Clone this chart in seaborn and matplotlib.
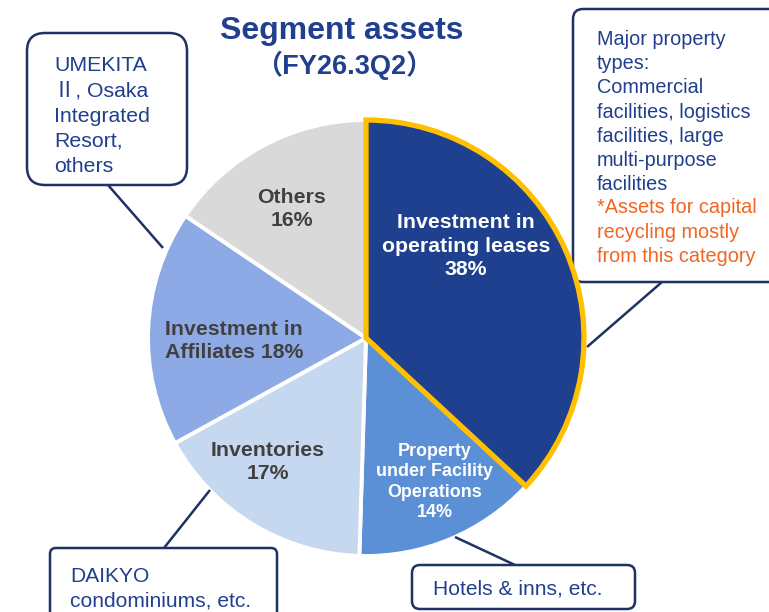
import matplotlib
matplotlib.use("Agg")
import matplotlib.pyplot as plt
import seaborn as sns
from matplotlib.patches import Wedge, FancyBboxPatch

sns.set_style("white")
plt.rcParams['font.family'] = ['Liberation Sans', 'Noto Sans CJK JP', 'DejaVu Sans']

# ---- data ----
categories = ["Investment in\noperating leases", "Property\nunder Facility\nOperations",
              "Inventories", "Investment in\nAffiliates", "Others"]
values = [38, 14, 17, 18, 16]
pct_labels = ["38%", "14%", "17%", "18%", "16%"]
colors = ["#1F3F8F", "#5B8FD6", "#C6D8F0", "#8EAAE6", "#D9D9D9"]
title = "Segment assets"
subtitle = "（FY26.3Q2）"

W, H = 769, 612
fig = plt.figure(figsize=(W / 100, H / 100), dpi=100)
ax = fig.add_axes([0, 0, 1, 1])

def Y(py):
    return H - py

cx, cy, R = 366, 338, 218
wedges, _ = ax.pie(values, colors=colors, startangle=90, counterclock=False,
                   center=(cx, Y(cy)), radius=R,
                   wedgeprops=dict(edgecolor="white", linewidth=2.8))
w0 = wedges[0]
ax.add_patch(Wedge(w0.center, w0.r, w0.theta1, w0.theta2, facecolor="none",
                   edgecolor="#FFC000", linewidth=3.8, zorder=5, joinstyle="miter"))

ax.set_xlim(0, W)
ax.set_ylim(0, H)
ax.set_aspect("equal")
ax.set_axis_off()

navy = "#203F8F"
dark = "#404040"

# title
ax.text(342, Y(31), title, ha="center", va="center", fontsize=23, fontweight="bold", color=navy)
ax.text(344, Y(65), subtitle, ha="center", va="center", fontsize=19.5, fontweight="bold", color=navy)

# slice labels
LS = 1.28
ax.text(466, Y(246), categories[0] + "\n" + pct_labels[0], ha="center", va="center",
        fontsize=15.3, fontweight="bold", color="white", linespacing=LS, zorder=6)
ax.text(435, Y(482), categories[1] + "\n" + pct_labels[1], ha="center", va="center",
        fontsize=12.9, fontweight="bold", color="white", linespacing=1.28, zorder=6)
ax.text(268, Y(462), categories[2] + "\n" + pct_labels[2], ha="center", va="center",
        fontsize=15.3, fontweight="bold", color=dark, linespacing=LS, zorder=6)
ax.text(234, Y(341), categories[3] + " " + pct_labels[3], ha="center", va="center",
        fontsize=15.3, fontweight="bold", color=dark, linespacing=LS, zorder=6)
ax.text(292, Y(209), categories[4] + "\n" + pct_labels[4], ha="center", va="center",
        fontsize=15.3, fontweight="bold", color=dark, linespacing=LS, zorder=6)

# callout boxes
box_col = "#1F3264"

def box(x0, y0, x1, y1, rad=14):
    p = FancyBboxPatch((x0 + rad, Y(y1) + rad), (x1 - x0) - 2 * rad, (y1 - y0) - 2 * rad,
                       boxstyle=f"round,pad={rad}", facecolor="white", edgecolor=box_col,
                       linewidth=1.8, zorder=3, clip_on=False)
    ax.add_patch(p)

def line(x0, y0, x1, y1):
    ax.plot([x0, x1], [Y(y0), Y(y1)], color=box_col, linewidth=1.8, zorder=4,
            solid_capstyle="butt")

box(27, 33, 187, 185, rad=18)
line(108, 185, 163, 248)
ax.text(54, Y(116), "UMEKITA\nⅡ, Osaka\nIntegrated\nResort,\nothers", ha="left", va="center",
        fontsize=15.3, color=navy, linespacing=1.42, zorder=6)

box(573, 9, 790, 282, rad=10)
line(587, 347, 662, 282)
ax.text(597, Y(112), "Major property\ntypes:\nCommercial\nfacilities, logistics\nfacilities, large\nmulti-purpose\nfacilities",
        ha="left", va="center", fontsize=14.3, color=navy, linespacing=1.35, zorder=6)
ax.text(597, Y(232), "*Assets for capital\nrecycling mostly\nfrom this category",
        ha="left", va="center", fontsize=14.3, color="#F26522", linespacing=1.35, zorder=6)

box(50, 548, 277, 640, rad=6)
line(210, 490, 164, 548)
ax.text(70, Y(589), "DAIKYO\ncondominiums, etc.", ha="left", va="center",
        fontsize=15.1, color=navy, linespacing=1.38, zorder=6)

box(412, 565, 635, 609, rad=8)
line(455, 537, 515, 565)
ax.text(518, Y(589), "Hotels & inns, etc.", ha="center", va="center",
        fontsize=15.1, color=navy, zorder=6)

fig.savefig("out.png", dpi=100)
